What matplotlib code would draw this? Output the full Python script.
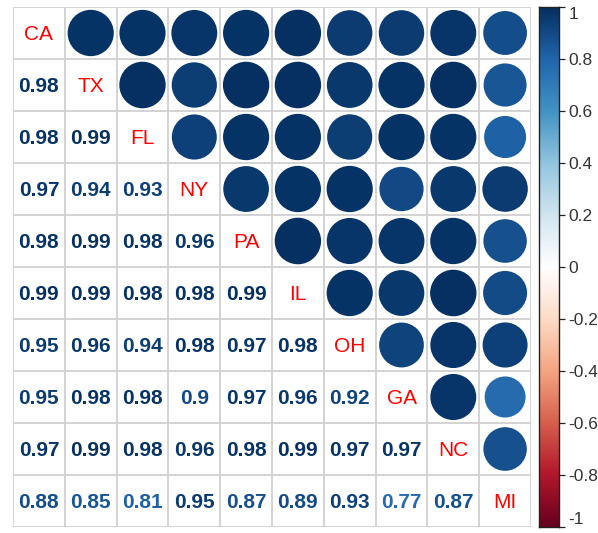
import numpy as np
import matplotlib
matplotlib.use("Agg")
import matplotlib.pyplot as plt
from matplotlib.colors import LinearSegmentedColormap, Normalize
from matplotlib.patches import Circle

states = ["CA", "TX", "FL", "NY", "PA", "IL", "OH", "GA", "NC", "MI"]
row_TX = [0.98]
row_FL = [0.98, 0.99]
row_NY = [0.97, 0.94, 0.93]
row_PA = [0.98, 0.99, 0.98, 0.96]
row_IL = [0.99, 0.99, 0.98, 0.98, 0.99]
row_OH = [0.95, 0.96, 0.94, 0.98, 0.97, 0.98]
row_GA = [0.95, 0.98, 0.98, 0.90, 0.97, 0.96, 0.92]
row_NC = [0.97, 0.99, 0.98, 0.96, 0.98, 0.99, 0.97, 0.97]
row_MI = [0.88, 0.85, 0.81, 0.95, 0.87, 0.89, 0.93, 0.77, 0.87]
lower_rows = [[], row_TX, row_FL, row_NY, row_PA, row_IL, row_OH, row_GA, row_NC, row_MI]
cbar_ticks = [1, 0.8, 0.6, 0.4, 0.2, 0, -0.2, -0.4, -0.6, -0.8, -1]
cbar_labels = ["1", "0.8", "0.6", "0.4", "0.2", "0", "-0.2", "-0.4", "-0.6", "-0.8", "-1"]

n = len(states)
M = np.eye(n)
for i, row in enumerate(lower_rows):
    for j, v in enumerate(row):
        M[i, j] = v
        M[j, i] = v

cols = ["#67001F", "#B2182B", "#D6604D", "#F4A582", "#FDDBC7", "#FFFFFF",
        "#D1E5F0", "#92C5DE", "#4393C3", "#2166AC", "#053061"]
cmap = LinearSegmentedColormap.from_list("rdbu", cols, N=200)
norm = Normalize(-1, 1)

W, H = 598, 533
fig = plt.figure(figsize=(W / 100, H / 100), dpi=100)
ax = fig.add_axes([13 / W, (H - 527) / H, 518 / W, 520 / H])
ax.set_xlim(0, n)
ax.set_ylim(n, 0)
ax.axis("off")

for k in range(n + 1):
    ax.plot([k, k], [0, n], color="#D0D0D0", lw=1.3, zorder=1, solid_capstyle="butt")
    ax.plot([0, n], [k, k], color="#D0D0D0", lw=1.3, zorder=1, solid_capstyle="butt")

for i in range(n):
    for j in range(n):
        v = M[i, j]
        cx, cy = j + 0.5, i + 0.5
        if i == j:
            ax.text(cx, cy + 0.02, states[i], color="#FF0000", fontsize=15,
                    family="Liberation Sans", ha="center", va="center", zorder=3)
        elif j > i:
            r = 0.45 * np.sqrt(abs(v))
            ax.add_patch(Circle((cx, cy), r, facecolor=cmap(norm(v)),
                                edgecolor="none", zorder=2))
        else:
            txt = ("%.2f" % v).rstrip("0").rstrip(".")
            ax.text(cx, cy + 0.02, txt, color=cmap(norm(v)), fontsize=15,
                    fontweight="bold", family="Liberation Sans",
                    ha="center", va="center", zorder=3)

cax = fig.add_axes([539 / W, (H - 527) / H, 20 / W, 520 / H])
grad = np.linspace(1, -1, 400).reshape(-1, 1)
cax.imshow(grad, aspect="auto", cmap=cmap, norm=norm, extent=[0, 1, -1, 1])
cax.set_xlim(0, 1)
cax.set_ylim(-1, 1)
cax.set_xticks([])
cax.yaxis.tick_right()
cax.set_yticks(cbar_ticks)
cax.set_yticklabels(cbar_labels, family="Liberation Sans", fontsize=12.5, color="#333333")
cax.tick_params(axis="y", length=4, width=0.9, pad=3, color="#222222")
labs = cax.get_yticklabels()
labs[-1].set_va("bottom")
labs[0].set_va("top")
for s in cax.spines.values():
    s.set_linewidth(1.0)
    s.set_color("#222222")

fig.savefig("out.png", dpi=100)
